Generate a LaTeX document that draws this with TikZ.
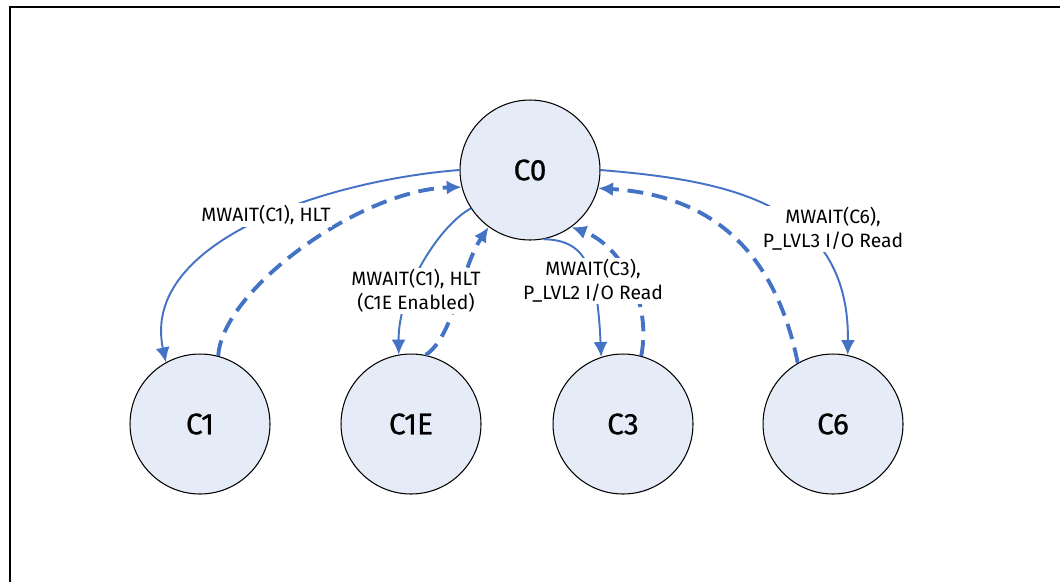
\documentclass[tikz,border=0pt]{standalone}
\usepackage{fontspec}
\setmainfont{Fira Sans}
\newfontfamily\statefont[FakeBold=0.6]{Fira Sans}
\usetikzlibrary{arrows.meta}
\definecolor{edgeblue}{RGB}{68,114,196}
\definecolor{statefill}{RGB}{230,236,247}
\tikzset{
 state/.style={circle,draw=black,line width=0.6pt,fill=statefill,minimum size=2.8cm,inner sep=0pt,font=\statefont\fontsize{17}{20}\selectfont},
 trans/.style={draw=edgeblue,line width=1.1pt,-{Latex[length=8.5pt,width=8pt]}},
 ret/.style={trans,line width=2.2pt,dash pattern=on 9pt off 5pt},
 lbl/.style={fill=white,inner sep=1pt,align=center,font=\fontsize{11}{13.5}\selectfont,text=black},
 frame/.style={draw=black,line width=1.2pt}
}
\begin{document}
\begin{tikzpicture}[x=0.02cm,y=-0.02cm]
\useasboundingbox (0,0) rectangle (1060,582);
\draw[frame] (10,582) -- (10,7) -- (1060,7);

\node[state] (C0) at (530,170) {C0};
\node[state] (C1) at (200,424) {C1};
\node[state] (C1E) at (411,424) {C1E};
\node[state] (C3) at (623,424) {C3};
\node[state] (C6) at (833,424) {C6};

% C0 -> C1 and back
\draw[trans] (C0.180) .. controls (330,180) and (140,240) .. (C1.119);
\draw[ret] (C1.75) .. controls (222,290) and (360,190) .. (C0.194);
% C0 -> C1E and back
\draw[trans] (C0.213) .. controls (440,225) and (398,290) .. (C1E.100);
\draw[ret] (C1E.78) .. controls (455,335) and (460,270) .. (C0.234);
% C0 -> C3 and back
\draw[trans] (C0.281) .. controls (585,240) and (597,265) .. (C3.108);
\draw[ret] (C3.75) .. controls (652,300) and (620,245) .. (C0.306);
% C0 -> C6 and back
\draw[trans] (C0.0) .. controls (720,180) and (850,200) .. (C6.78);
\draw[ret] (C6.120) .. controls (775,250) and (710,195) .. (C0.345);

\node[lbl] (L1) at (266,215) {MWAIT(C1), HLT};
\node[lbl] (L2) at (416,291) {MWAIT(C1), HLT\\(C1E Enabled)};
\node[lbl] (L3) at (593,281) {MWAIT(C3),\\P\_LVL2 I/O Read};
\node[lbl] (L4) at (833,229) {MWAIT(C6),\\P\_LVL3 I/O Read};
\end{tikzpicture}
\end{document}
